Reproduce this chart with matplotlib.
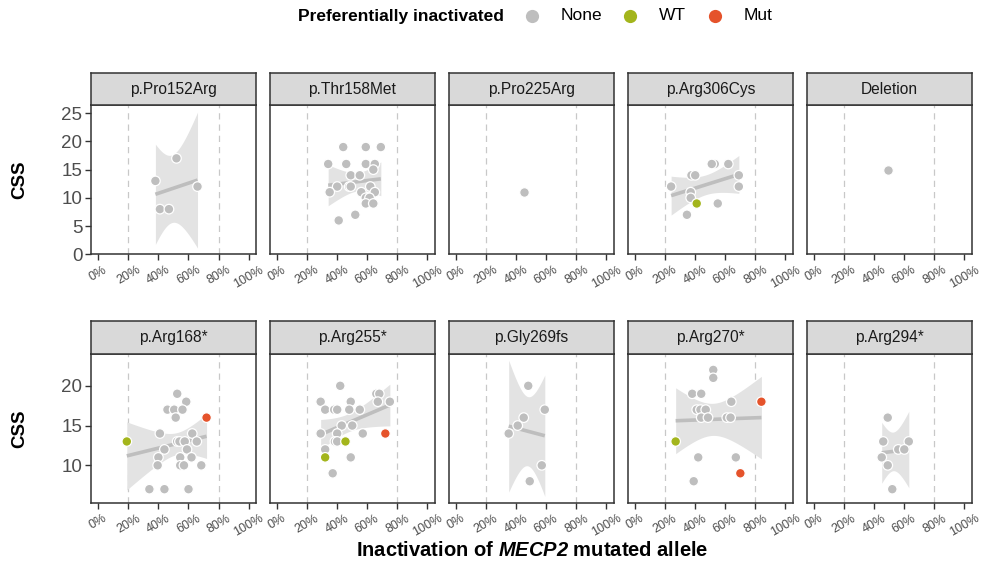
import numpy as np
import matplotlib
matplotlib.use("Agg")
import matplotlib.pyplot as plt
from matplotlib.lines import Line2D

plt.rcParams['font.family'] = ['Liberation Sans', 'DejaVu Sans']
plt.rcParams['mathtext.fontset'] = 'custom'
plt.rcParams['mathtext.it'] = 'Liberation Sans:italic:bold'
plt.rcParams['mathtext.rm'] = 'Liberation Sans:italic:bold'

# ---- data (x = fraction of mutated allele inactivated, y = CSS) ----
top_panels = ["p.Pro152Arg", "p.Thr158Met", "p.Pro225Arg", "p.Arg306Cys", "Deletion"]
bottom_panels = ["p.Arg168*", "p.Arg255*", "p.Gly269fs", "p.Arg270*", "p.Arg294*"]

pro152_x = [0.38, 0.52, 0.41, 0.47, 0.66]
pro152_y = [13, 17, 8, 8, 12]
pro152_g = "NNNNN"

thr158_x = [0.44, 0.59, 0.69, 0.34, 0.46, 0.59, 0.65, 0.64, 0.49, 0.55, 0.40, 0.48,
            0.49, 0.62, 0.35, 0.56, 0.65, 0.59, 0.615, 0.59, 0.64, 0.52, 0.41]
thr158_y = [19, 19, 19, 16, 16, 16, 16, 15, 14, 14, 12, 12, 12, 12, 11, 11, 11, 10, 10, 9, 9, 7, 6]
thr158_g = "N" * 23

pro225_x = [0.45]
pro225_y = [11]
pro225_g = "N"

arg306_x = [0.24, 0.375, 0.40, 0.53, 0.51, 0.62, 0.69, 0.69, 0.37, 0.37, 0.41, 0.55, 0.345]
arg306_y = [12, 14, 14, 16, 16, 16, 14, 12, 11, 10, 9, 9, 7]
arg306_g = "NNNNNNNNNNWNN"

deletion_x = [0.49]
deletion_y = [15]
deletion_g = "N"

arg168_x = [0.19, 0.72, 0.525, 0.585, 0.46, 0.505, 0.56, 0.515, 0.41, 0.625, 0.44, 0.525, 0.54,
            0.575, 0.655, 0.59, 0.40, 0.545, 0.62, 0.395, 0.545, 0.57, 0.685, 0.34, 0.44, 0.60]
arg168_y = [13, 16, 19, 18, 17, 17, 17, 16, 14, 14, 12, 13, 13, 13, 13, 12, 11, 11, 11, 10, 10, 10, 10, 7, 7, 7]
arg168_g = "WM" + "N" * 24

arg255_x = [0.42, 0.29, 0.49, 0.32, 0.38, 0.40, 0.48, 0.55, 0.66, 0.68, 0.67, 0.75, 0.43,
            0.50, 0.29, 0.40, 0.57, 0.72, 0.385, 0.40, 0.455, 0.32, 0.32, 0.49, 0.37]
arg255_y = [20, 18, 18, 17, 17, 17, 17, 17, 19, 19, 18, 18, 15, 15, 14, 14, 14, 14, 13, 13, 13, 12, 11, 11, 9]
arg255_g = "NNNNNNNNNNNNNNNNNMNNWNWNN"

gly269_x = [0.48, 0.59, 0.45, 0.41, 0.35, 0.57, 0.49]
gly269_y = [20, 17, 16, 15, 14, 10, 8]
gly269_g = "NNNNNNN"

arg270_x = [0.52, 0.52, 0.38, 0.44, 0.64, 0.84, 0.41, 0.435, 0.47, 0.44, 0.485, 0.61, 0.635,
            0.27, 0.42, 0.67, 0.70, 0.39]
arg270_y = [22, 21, 19, 19, 18, 18, 17, 17, 17, 16, 16, 16, 16, 13, 11, 11, 9, 8]
arg270_g = "NNNNNMNNNNNNNWNNMN"

arg294_x = [0.49, 0.46, 0.63, 0.56, 0.60, 0.45, 0.49, 0.52]
arg294_y = [16, 13, 13, 12, 12, 11, 10, 7]
arg294_g = "NNNNNNNN"

top_data = [(pro152_x, pro152_y, pro152_g), (thr158_x, thr158_y, thr158_g),
            (pro225_x, pro225_y, pro225_g), (arg306_x, arg306_y, arg306_g),
            (deletion_x, deletion_y, deletion_g)]
bottom_data = [(arg168_x, arg168_y, arg168_g), (arg255_x, arg255_y, arg255_g),
               (gly269_x, gly269_y, gly269_g), (arg270_x, arg270_y, arg270_g),
               (arg294_x, arg294_y, arg294_g)]

group_keys = ["N", "W", "M"]
group_names = {"N": "None", "W": "WT", "M": "Mut"}
group_colors = {"N": "#BEBEBE", "W": "#A3B51C", "M": "#E5532B"}
x_ticks = [0, 0.2, 0.4, 0.6, 0.8, 1.0]
x_labels = ["0%", "20%", "40%", "60%", "80%", "100%"]


def t975(df):
    # Cornish-Fisher approximation of the 0.975 t quantile
    z = 1.959964
    return (z + (z**3 + z) / (4 * df) + (5 * z**5 + 16 * z**3 + 3 * z) / (96 * df**2)
            + (3 * z**7 + 19 * z**5 + 17 * z**3 - 15 * z) / (384 * df**3)
            + (79 * z**9 + 776 * z**7 + 1482 * z**5 - 1920 * z**3 - 945 * z) / (92160 * df**4))


def lm_smooth(ax, x, y):
    x = np.asarray(x, float)
    y = np.asarray(y, float)
    n = len(x)
    if n < 3:
        return
    b, a = np.polyfit(x, y, 1)
    xs = np.linspace(x.min(), x.max(), 80)
    fit = a + b * xs
    resid = y - (a + b * x)
    s = np.sqrt(np.sum(resid**2) / (n - 2))
    se = s * np.sqrt(1 / n + (xs - x.mean())**2 / np.sum((x - x.mean())**2))
    t = t975(n - 2)
    ax.fill_between(xs, fit - t * se, fit + t * se, color="#E3E3E3", lw=0, zorder=1)
    ax.plot(xs, fit, color="#BEBEBE", lw=2.6, zorder=2, solid_capstyle="butt")


fig = plt.figure(figsize=(9.86, 5.68), dpi=100)
W, H = 986, 568
lefts = [90.7, 269.5, 448.5, 627.5, 806.5]
pw = 165.5
rows = [(top_panels, top_data, 73.3, 105, 254.3, (0, 26.45), [0, 5, 10, 15, 20, 25]),
        (bottom_panels, bottom_data, 320.7, 354, 502.7, (5.3, 24.0), [10, 15, 20])]

for names, datas, strip_top, ptop, pbot, ylim, yticks in rows:
    for i, (name, (xs, ys, gs)) in enumerate(zip(names, datas)):
        ax = fig.add_axes([lefts[i] / W, 1 - pbot / H, pw / W, (pbot - ptop) / H])
        ax.set_xlim(-0.05, 1.05)
        ax.set_ylim(*ylim)
        for xv in (0.2, 0.8):
            ax.axvline(xv, color="#C8C8C8", lw=0.9, ls=(0, (5, 4)), zorder=0)
        lm_smooth(ax, xs, ys)
        cols = [group_colors[g] for g in gs]
        ax.scatter(xs, ys, s=48, c=cols, edgecolors="white", linewidths=0.9, zorder=3)
        ax.set_xticks(x_ticks)
        ax.set_xticklabels(x_labels, rotation=30, ha="center", va="top")
        ax.tick_params(axis="x", labelsize=9, labelcolor="#4D4D4D", color="#333333",
                       length=4, width=1, pad=3)
        ax.set_yticks(yticks)
        if i == 0:
            ax.tick_params(axis="y", labelsize=13.5, labelcolor="#4D4D4D", color="#333333",
                           length=4, width=1, pad=2)
        else:
            ax.tick_params(axis="y", left=False, labelleft=False)
        for sp in ax.spines.values():
            sp.set_color("#333333")
            sp.set_linewidth(1.1)
        sax = fig.add_axes([lefts[i] / W, 1 - ptop / H, pw / W, (ptop - strip_top) / H])
        sax.set_facecolor("#D9D9D9")
        sax.set_xticks([])
        sax.set_yticks([])
        for sp in sax.spines.values():
            sp.set_color("#333333")
            sp.set_linewidth(1.1)
        sax.text(0.5, 0.5, name, ha="center", va="center", fontsize=11.2, color="#1A1A1A",
                 transform=sax.transAxes)
    fig.text(20 / W, 1 - ((ptop + pbot) / 2) / H, "CSS", rotation=90, ha="center", va="center",
             fontsize=13.5, fontweight="bold")

fig.text(532 / W, 1 - 551 / H, r"Inactivation of $\mathit{MECP2}$ mutated allele",
         ha="center", va="center", fontsize=14.5, fontweight="bold")

# legend on top
leg_y = 1 - 16 / H
fig.text(504 / W, leg_y, "Preferentially inactivated", ha="right", va="center",
         fontsize=12.5, fontweight="bold")
key_x = [532, 630, 715]
for k, kx in zip(group_keys, key_x):
    fig.add_artist(Line2D([kx / W], [leg_y], transform=fig.transFigure, marker="o", ls="",
                          markersize=9.5, markerfacecolor=group_colors[k], markeredgecolor="none"))
    fig.text((kx + 29) / W, leg_y, group_names[k], ha="left", va="center", fontsize=12.5)

fig.savefig("out.png", dpi=100)
